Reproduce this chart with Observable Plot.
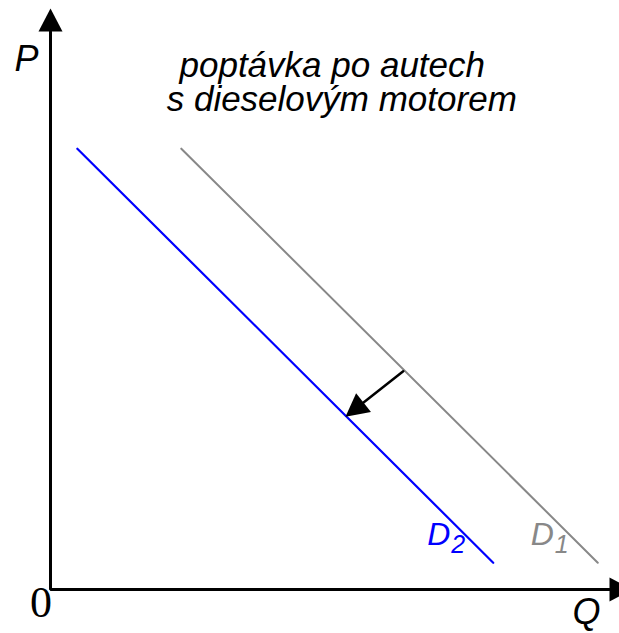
<!DOCTYPE html>
<html>
<head>
<meta charset="utf-8">
<script src="https://cdn.jsdelivr.net/npm/d3@7"></script>
<script src="https://cdn.jsdelivr.net/npm/@observablehq/plot@0.6"></script>
<style>
  html, body { margin: 0; padding: 0; background: #fff; overflow: hidden; }
</style>
</head>
<body>
<div id="chart"></div>
<script>
// ---- data (abstract Q / P units) ----
const qDomain = [0, 10];
const pDomain = [0, 10];
const axisPath = [[0, 10], [0, 0], [10, 0]];
const demandD1 = [[2.34, 7.90], [9.79, 0.48]];
const demandD2 = [[0.48, 7.90], [7.92, 0.48]];
const shiftFrom = [6.31, 3.91];
const shiftTo = [5.60, 3.35];
const titleLines = [
  {text: "poptávka po autech", q: 5.04, p: 9.18},
  {text: "s dieselovým motorem", q: 5.21, p: 8.58}
];
const curveLabels = [
  {name: "D", sub: "2", q: 6.74, p: 0.79, color: "#0000ff"},
  {name: "D", sub: "1", q: 8.59, p: 0.79, color: "#888888"}
];
const axisLabels = [
  {text: "P", q: -0.43, p: 9.30},
  {text: "Q", q: 9.59, p: -0.61}
];
const originLabel = [{text: "0", q: -0.17, p: -0.50}];

// ---- layout ----
const W = 619, H = 633;
const mL = 50, mR = 10, mT = 31, mB = 44;
const kx = (W - mL - mR) / (qDomain[1] - qDomain[0]);
const ky = (H - mT - mB) / (pDomain[1] - pDomain[0]);

// filled arrowhead symbol, pointing up, anchored at its base centre
const arrowHead = {
  draw(context) {
    context.moveTo(0, -23);
    context.lineTo(12, 0);
    context.lineTo(-12, 0);
    context.closePath();
  }
};

const heads = [
  {q: 0, p: 10, rot: 0},
  {q: 10, p: 0, rot: 90},
  {q: shiftTo[0], p: shiftTo[1],
   rot: Math.atan2((shiftTo[0] - shiftFrom[0]) * kx, (shiftTo[1] - shiftFrom[1]) * ky) * 180 / Math.PI}
];

const sans = "'Liberation Sans', Arial, Helvetica, sans-serif";

const chart = Plot.plot({
  width: W,
  height: H,
  marginLeft: mL,
  marginRight: mR,
  marginTop: mT,
  marginBottom: mB,
  x: {domain: qDomain, axis: null},
  y: {domain: pDomain, axis: null},
  style: {background: "#fff", overflow: "visible"},
  marks: [
    Plot.line(demandD1, {stroke: "#888888", strokeWidth: 2}),
    Plot.line(demandD2, {stroke: "#0000ff", strokeWidth: 2.2}),
    Plot.line([shiftFrom, shiftTo], {stroke: "#000", strokeWidth: 2.5}),
    Plot.line(axisPath, {stroke: "#000", strokeWidth: 3, strokeLinejoin: "miter"}),
    Plot.dot(heads, {x: "q", y: "p", rotate: "rot", symbol: arrowHead, fill: "#000", stroke: "none"}),
    Plot.text(titleLines, {
      x: "q", y: "p", text: "text",
      textAnchor: "middle", lineAnchor: "bottom",
      fontSize: 35, fontStyle: "italic", fontFamily: sans, fill: "#000"
    }),
    Plot.text(axisLabels, {
      x: "q", y: "p", text: "text", textAnchor: "middle", lineAnchor: "bottom",
      fontSize: 36, fontStyle: "italic", fontFamily: sans, fill: "#000"
    }),
    Plot.text(originLabel, {
      x: "q", y: "p", text: "text", textAnchor: "middle", lineAnchor: "bottom",
      fontSize: 44, fontFamily: "'Liberation Serif', 'Times New Roman', serif", fill: "#000"
    }),
    Plot.text(curveLabels, {
      x: "q", y: "p", text: "name", fill: "color", textAnchor: "start", lineAnchor: "bottom",
      fontSize: 32, fontStyle: "italic", fontFamily: sans
    }),
    Plot.text(curveLabels, {
      x: "q", y: "p", text: "sub", fill: "color", textAnchor: "start", lineAnchor: "bottom",
      dx: 24, dy: 8,
      fontSize: 25, fontStyle: "italic", fontFamily: sans
    })
  ]
});
document.getElementById("chart").appendChild(chart);
</script>
</body>
</html>
